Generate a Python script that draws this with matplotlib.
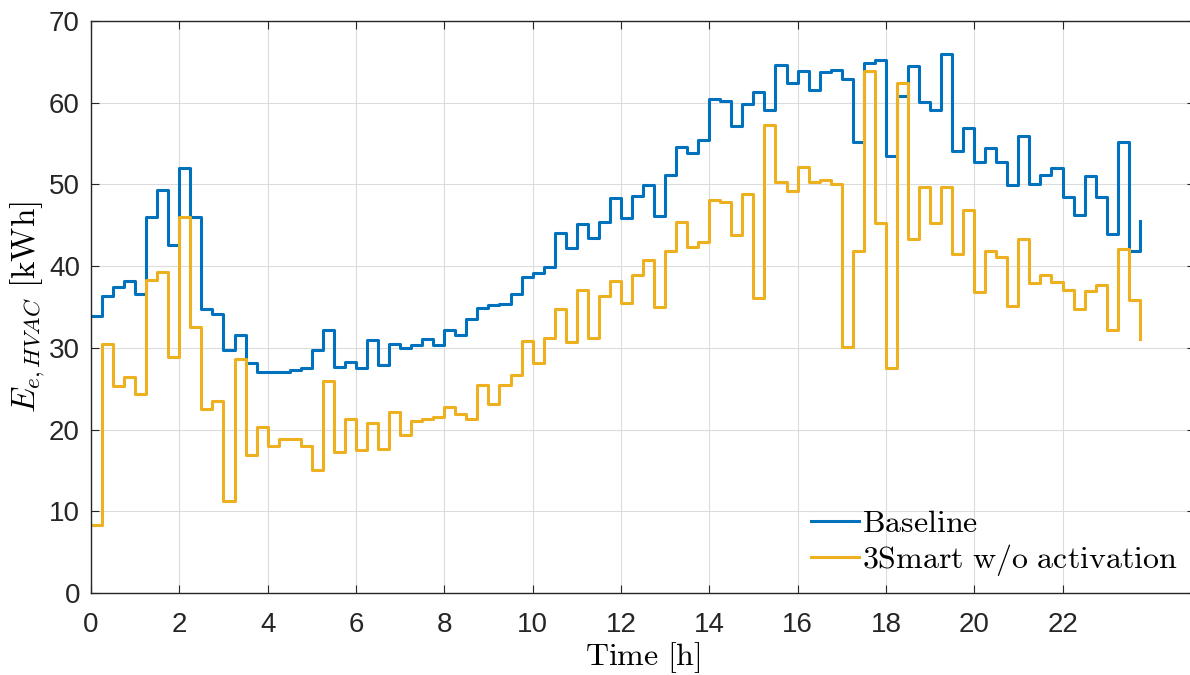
import numpy as np
import matplotlib
matplotlib.use("Agg")
import matplotlib.pyplot as plt

plt.rcParams['mathtext.fontset'] = 'cm'
plt.rcParams['font.family'] = ['Liberation Sans', 'DejaVu Sans']

# 15-minute samples over one day
time_h = np.arange(96) * 0.25

baseline = [33.9, 36.3, 37.5, 38.2, 36.6, 46.0, 49.3, 42.6, 52.0, 46.0, 34.8, 34.2,
            29.7, 31.6, 28.2, 27.0, 27.0, 27.1, 27.3, 27.5, 29.7, 32.2, 27.7, 28.3,
            27.5, 31.0, 27.9, 30.5, 30.0, 30.4, 31.1, 30.3, 32.2, 31.6, 33.5, 34.9,
            35.2, 35.4, 36.6, 38.7, 39.2, 39.9, 44.0, 42.2, 45.1, 43.5, 45.4, 48.4,
            45.9, 48.6, 49.9, 46.1, 51.2, 54.6, 53.8, 55.4, 60.4, 60.2, 57.1, 59.8,
            61.3, 59.1, 64.6, 62.4, 63.9, 61.5, 63.8, 64.0, 62.9, 55.2, 64.8, 65.2,
            53.5, 60.8, 64.5, 60.1, 59.1, 66.0, 54.1, 56.9, 52.7, 54.4, 52.8, 49.9,
            55.9, 50.0, 51.2, 52.0, 48.5, 46.2, 51.0, 48.5, 43.9, 55.2, 41.8, 45.5]

smart = [8.3, 30.5, 25.3, 26.4, 24.3, 38.3, 39.3, 28.9, 46.0, 32.6, 22.5, 23.5,
         11.3, 28.6, 16.9, 20.3, 18.0, 18.9, 18.8, 18.0, 15.0, 26.0, 17.2, 21.3,
         17.5, 20.8, 17.6, 22.2, 19.3, 21.0, 21.3, 21.5, 22.8, 21.9, 21.3, 25.4,
         23.1, 25.4, 26.7, 30.9, 28.2, 31.2, 34.8, 30.7, 37.1, 31.2, 36.3, 38.2,
         35.5, 38.9, 40.7, 35.0, 41.9, 45.4, 42.4, 42.9, 48.1, 47.9, 43.8, 48.8,
         36.1, 57.3, 50.3, 49.2, 52.1, 50.3, 50.5, 50.1, 30.1, 41.8, 63.9, 45.3,
         27.5, 62.4, 43.3, 49.7, 45.3, 49.7, 41.5, 46.9, 36.8, 41.8, 41.1, 35.1,
         43.3, 37.9, 38.9, 38.0, 37.1, 34.8, 37.0, 37.7, 32.2, 42.1, 35.9, 31.1]

fig = plt.figure(figsize=(11.9, 6.75), dpi=100)
ax = fig.add_axes([91 / 1190, 82 / 675, 1104 / 1190, 572 / 675])

ax.step(time_h, baseline, where='post', color='#0072BD', lw=2.2,
        label=r'$\mathrm{Baseline}$')
ax.step(time_h, smart, where='post', color='#EDB120', lw=2.2,
        label=r'$\mathrm{3Smart\ w/o\ activation}$')

ax.set_xlim(0, 25)
ax.set_ylim(0, 70)
ax.set_xticks(np.arange(0, 23, 2))
ax.set_yticks(np.arange(0, 71, 10))
ax.grid(True, color='#dcdcdc', lw=0.8)
ax.set_axisbelow(True)
for s in ax.spines.values():
    s.set_color('#262626')
    s.set_linewidth(1.0)
ax.tick_params(direction='in', length=6, width=0.8, color='#262626',
               top=True, right=True, labelsize=20, labelcolor='#262626')
ax.tick_params(axis='x', pad=14)
ax.tick_params(axis='y', pad=8)

ax.set_xlabel(r'$\mathrm{Time\ [h]}$', fontsize=23, labelpad=1)
ax.set_ylabel(r'$E_{e,HVAC}\ \mathrm{[kWh]}$', fontsize=24, labelpad=1)

ax.legend(loc='lower right', bbox_to_anchor=(1178 / 1190, 1 - 578 / 675),
          bbox_transform=fig.transFigure, frameon=False, fontsize=23,
          handlelength=1.5, handletextpad=0.1, labelspacing=0.1,
          borderpad=0, borderaxespad=0)

fig.savefig('out.png', dpi=100)
